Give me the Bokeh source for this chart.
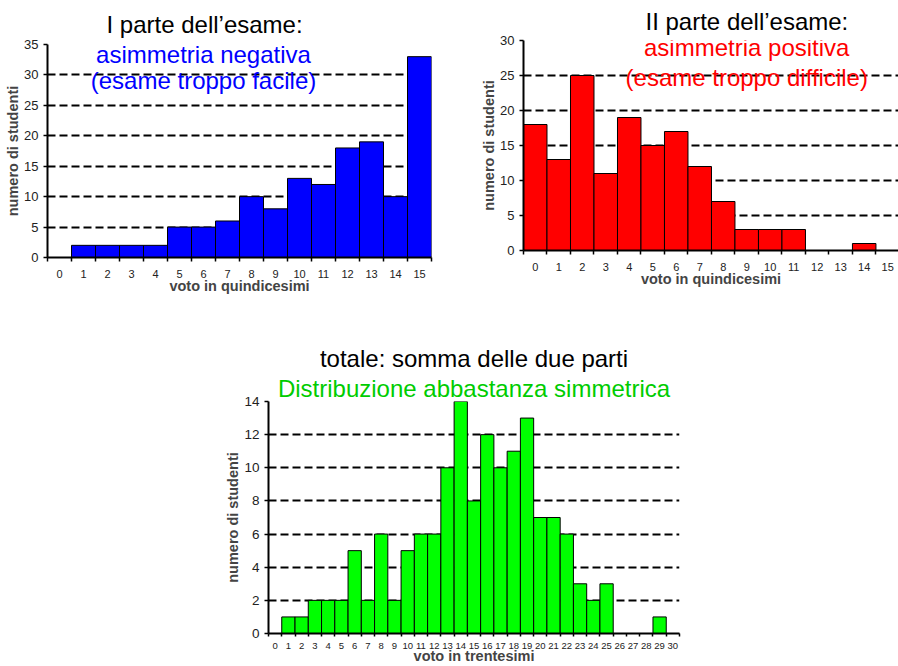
from bokeh.plotting import figure
from bokeh.models import Label, FixedTicker, Range1d, Spacer, Title
from bokeh.layouts import column, row
from bokeh.embed import file_html
from bokeh.resources import INLINE

FONT = "Liberation Sans"

# ---------------- data ----------------
voti15 = list(range(0, 16))
parte1 = [0, 2, 2, 2, 2, 5, 5, 6, 10, 8, 13, 12, 18, 19, 10, 33]
parte2 = [18, 13, 25, 11, 19, 15, 17, 12, 7, 3, 3, 3, 0, 0, 1, 0]
voti30 = list(range(0, 31))
totale = [0, 1, 1, 2, 2, 2, 5, 2, 6, 2, 5, 6, 6, 10, 14, 8, 12, 10, 11, 13,
          7, 7, 6, 3, 2, 3, 0, 0, 0, 1, 0]

title1 = "I parte dell\u2019esame:"
sub1a = "asimmetria negativa"
sub1b = "(esame troppo facile)"
title2 = "II parte dell\u2019esame:"
sub2a = "asimmetria positiva"
sub2b = "(esame troppo difficile)"
title3 = "totale: somma delle due parti"
sub3 = "Distribuzione abbastanza simmetrica"
ylabel = "numero di studenti"
xlabel15 = "voto in quindicesimi"
xlabel30 = "voto in trentesimi"


def make_hist(xs, ys, color, width, height, x_end, y_end, y_step,
              mb_left, mb_right, mb_top, mb_bottom, xlabel,
              xtick_size, ytick_size):
    p = figure(width=width, height=height, output_backend="svg",
               toolbar_location=None, frame_align=False,
               x_range=Range1d(-0.5, x_end), y_range=Range1d(0, y_end),
               min_border_left=mb_left, min_border_right=mb_right,
               min_border_top=mb_top, min_border_bottom=mb_bottom)
    p.outline_line_color = None
    p.background_fill_color = "white"
    p.border_fill_color = "white"
    p.vbar(x=xs, top=ys, width=1.0, fill_color=color, line_color="black",
           line_width=1)
    p.xgrid.visible = False
    p.ygrid.grid_line_color = "black"
    p.ygrid.grid_line_width = 2
    p.ygrid.grid_line_dash = "8 4"

    p.xaxis.ticker = FixedTicker(ticks=list(xs),
                                 minor_ticks=[x - 0.5 for x in xs] + [xs[-1] + 0.5])
    p.xaxis.major_tick_line_color = None
    p.xaxis.minor_tick_out = 4
    p.xaxis.minor_tick_in = 0
    p.xaxis.minor_tick_line_color = "black"
    p.xaxis.minor_tick_line_width = 1.5
    p.xaxis.major_label_text_font = FONT
    p.xaxis.major_label_text_font_size = xtick_size
    p.xaxis.major_label_text_color = "#222222"
    p.xaxis.major_label_standoff = 6
    p.xaxis.axis_label = xlabel
    p.xaxis.axis_label_text_font = FONT
    p.xaxis.axis_label_text_font_style = "bold"
    p.xaxis.axis_label_text_font_size = "14.5px"
    p.xaxis.axis_label_standoff = -3
    p.xaxis.axis_line_width = 2

    p.yaxis.ticker = FixedTicker(ticks=list(range(0, y_end + 1, y_step)))
    p.yaxis.major_tick_out = 4
    p.yaxis.major_tick_in = 0
    p.yaxis.major_tick_line_width = 1.5
    p.yaxis.major_label_text_font = FONT
    p.yaxis.major_label_text_font_size = ytick_size
    p.yaxis.major_label_text_color = "#222222"
    p.yaxis.major_label_standoff = 5
    p.yaxis.axis_label = ylabel
    p.yaxis.axis_label_text_font = FONT
    p.yaxis.axis_label_text_font_style = "bold"
    p.yaxis.axis_label_text_font_size = "14.5px"
    p.yaxis.axis_label_standoff = 0
    p.yaxis.axis_line_width = 2
    return p


def add_text(p, x, y, text, color):
    p.add_layout(Label(x=x, y=y, text=text, text_align="center",
                       text_baseline="middle", text_font=FONT,
                       text_font_size="24px", text_color=color))


def add_title(p, text, color, align, offset, standoff):
    p.add_layout(Title(text=text, align=align, offset=offset,
                       standoff=standoff, text_font=FONT,
                       text_font_size="24px", text_font_style="normal",
                       text_color=color), "above")


# ---- chart 1 ----
p1 = make_hist(voti15, parte1, "#0000FF", 450, 310, 15.5, 35, 5,
               47, 19, 44, 53, xlabel15, "11px", "13px")
add_title(p1, title1, "black", "left", 59, 13)
add_text(p1, 6.0, 33.4, sub1a, "#0000FF")
add_text(p1, 6.0, 29.1, sub1b, "#0000FF")

# ---- chart 2 ----
p2 = make_hist(voti15, parte2, "#FF0000", 448, 310, 15.46, 30, 5,
               73, 0, 39, 60, xlabel15, "11px", "13px")
add_title(p2, title2, "black", "left", 122, 11)
add_text(p2, 9.0, 29.0, sub2a, "#FF0000")
add_text(p2, 9.0, 24.7, sub2b, "#FF0000")

# ---- chart 3 ----
p3 = make_hist(voti30, totale, "#00FF00", 490, 356, 30.5, 14, 2,
               68, 11, 91, 31, xlabel30, "9.5px", "13.5px")
p3.xaxis.major_label_standoff = 3
p3.xaxis.minor_tick_out = 3
p3.xaxis.axis_label_standoff = -4
add_title(p3, sub3, "#00CC00", "center", 0, 0)
add_title(p3, title3, "black", "center", 0, 1)

layout = column(row(p1, p2), row(Spacer(width=200, height=356), p3))

open("out.html", "w").write(file_html(layout, INLINE))
